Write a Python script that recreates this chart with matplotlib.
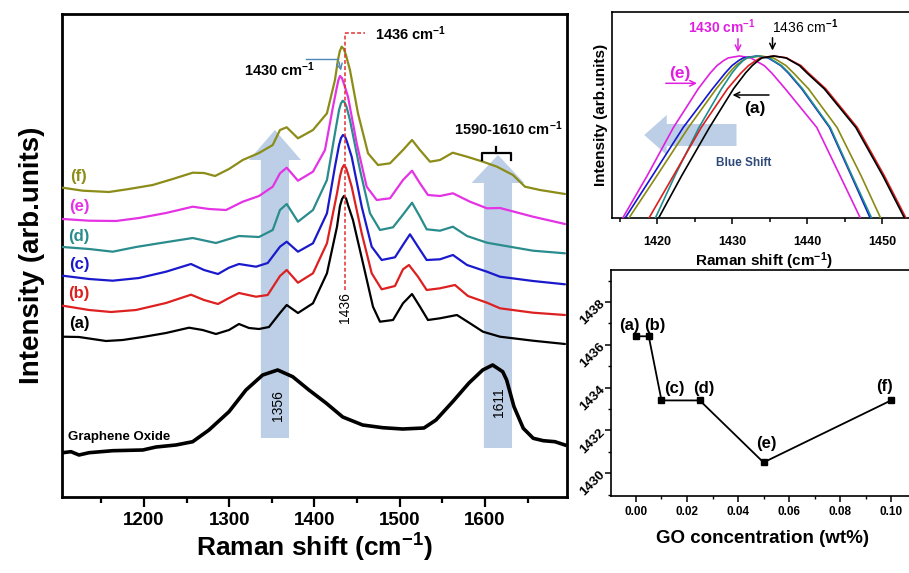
import matplotlib
matplotlib.use("Agg")
import matplotlib.pyplot as plt
from matplotlib.patches import FancyArrow
from matplotlib.ticker import MultipleLocator, FormatStrFormatter

plt.rcParams['font.family'] = ['Liberation Sans', 'DejaVu Sans']
plt.rcParams['mathtext.fontset'] = 'custom'
plt.rcParams['mathtext.rm'] = 'Liberation Sans:bold'
plt.rcParams['mathtext.bf'] = 'Liberation Sans:bold'
plt.rcParams['mathtext.it'] = 'Liberation Sans:bold'
plt.rcParams['mathtext.default'] = 'rm'

# ---------------- main spectra (Raman shift, arb. intensity) ----------------
wn_a = [1104.6, 1123.7, 1155.4, 1175.0, 1198.5, 1225.8, 1252.8, 1268.8, 1284.4, 1299.7, 1311.4, 1323.2,
        1334.9, 1346.6, 1359.5, 1367.4, 1380.6, 1398.2, 1414.6, 1426.4, 1429.9, 1432.3, 1434.6, 1437.0,
        1439.3, 1445.1, 1456.9, 1468.6, 1476.8, 1492.1, 1503.8, 1514.4, 1523.7, 1533.1, 1547.2, 1567.1,
        1582.4, 1597.6, 1617.6, 1656.3, 1693.8]
int_a = [160.3, 160, 156, 157, 160, 164, 169.3, 167, 163, 167, 173, 169,
         168, 170, 184, 192, 184, 193.7, 223.7, 270.3, 291, 298, 301, 298.5,
         292, 277, 233.7, 190.3, 175.3, 177, 193.7, 203, 190.3, 177, 178.7, 182,
         173.7, 165.3, 160.3, 156.3, 153]

wn_b = [1104.6, 1135.5, 1161.3, 1190.6, 1225.8, 1255.1, 1270.4, 1286.8, 1299.7, 1311.4, 1331.4, 1345.1,
        1359.5, 1367.4, 1380.6, 1398.2, 1414.6, 1426.4, 1430.0, 1432.3, 1434.6, 1437.0, 1439.3, 1443.6,
        1455.4, 1467.1, 1478.8, 1494.4, 1503.8, 1510.8, 1521.4, 1531.6, 1547.2, 1564.8, 1580.0, 1602.3,
        1617.6, 1656.3, 1693.8]
int_b = [191.3, 187, 185, 187, 194, 202.3, 197, 193, 199, 204, 200.3, 202,
         221, 227, 214.3, 223.7, 253.7, 303.7, 321, 328.5, 332, 329, 323, 310.3,
         263.7, 223.7, 207.7, 211, 227.7, 232, 220.3, 207, 208.7, 212, 201, 194.3,
         188.7, 184.3, 182]

wn_c = [1104.6, 1135.5, 1163.3, 1194.1, 1225.8, 1255.1, 1270.4, 1286.8, 1299.7, 1311.4, 1331.4, 1345.1,
        1359.5, 1367.4, 1380.6, 1398.2, 1414.6, 1424.0, 1428.8, 1431.1, 1433.4, 1435.8, 1438.2, 1443.6,
        1455.4, 1467.1, 1478.8, 1494.4, 1505.0, 1512.0, 1521.4, 1531.6, 1547.2, 1562.4, 1578.9, 1602.3,
        1617.6, 1656.3, 1693.8]
int_c = [221.3, 218, 216.3, 219, 225.3, 233, 227, 223, 229.3, 233, 230.3, 234,
         250.3, 255.3, 245.3, 253.7, 283.7, 330.3, 352, 359, 362, 360.5, 355, 340.3,
         290.3, 250.3, 237, 239.7, 253.7, 262.7, 250.3, 237, 237.7, 242, 232, 225.3,
         220.3, 216, 212.7]

wn_d = [1104.6, 1135.5, 1163.3, 1190.6, 1221.9, 1257.1, 1284.4, 1311.4, 1334.9, 1351.0, 1359.5, 1367.4,
        1380.6, 1398.2, 1414.6, 1424.0, 1428.8, 1431.0, 1433.1, 1435.4, 1437.6, 1441.6, 1453.4, 1465.1,
        1476.8, 1492.1, 1505.0, 1514.4, 1523.7, 1531.6, 1547.2, 1562.4, 1578.9, 1602.3, 1617.6, 1656.3,
        1693.8]
int_d = [250, 248, 245.3, 250, 254.3, 259, 254, 261, 260, 267, 287, 293,
         275.3, 287, 317, 363.7, 387, 393.5, 396.3, 394.5, 390, 377, 327, 283.7,
         267, 269.7, 283.7, 294.3, 280.3, 267.7, 266.3, 270.3, 261, 254.3, 252, 246.3,
         243.7]

wn_e = [1104.6, 1135.5, 1167.1, 1194.1, 1225.8, 1257.1, 1276.2, 1296.2, 1315.8, 1334.9, 1351.0, 1359.5,
        1367.4, 1380.6, 1398.2, 1412.3, 1421.7, 1425.8, 1427.9, 1429.9, 1432.2, 1434.6, 1439.3, 1449.5,
        1461.2, 1473.0, 1488.6, 1503.8, 1514.4, 1523.7, 1533.1, 1547.2, 1562.4, 1582.4, 1602.3, 1617.6,
        1656.3, 1693.8]
int_e = [278, 276.3, 276, 279, 284, 290.3, 288, 287, 295.3, 301, 310.3, 323.7,
         329.3, 316.3, 325.3, 347, 390.3, 408, 416.5, 421, 419, 413, 400.3, 353.7,
         310.3, 297, 298.7, 317, 326.3, 313.7, 302, 301, 303.7, 295.3, 288.7, 289,
         280.3, 273]

wn_f = [1104.6, 1128.1, 1158.9, 1182.4, 1210.2, 1233.7, 1257.1, 1270.4, 1283.3, 1299.7, 1315.8, 1334.9,
        1351.0, 1359.5, 1367.4, 1380.6, 1398.2, 1414.6, 1424.0, 1427.5, 1429.7, 1431.9, 1434.4, 1436.9,
        1441.6, 1451.0, 1462.8, 1474.5, 1488.6, 1503.8, 1514.4, 1523.7, 1535.5, 1547.2, 1562.1, 1578.9,
        1597.6, 1614.1, 1632.8, 1646.9, 1664.5, 1693.8]
int_f = [309.3, 306.3, 305, 308, 312, 318, 324.3, 324, 321, 328, 337, 344,
         352, 367, 369.7, 358.7, 367, 383.7, 417, 437, 446, 450.3, 448, 442,
         427, 383.7, 343.7, 332, 333.7, 347, 357, 347, 335.3, 337, 344.3, 340.3,
         335.3, 330.3, 322, 310.3, 307, 303]

wn_go = [1104.6, 1114.4, 1123.7, 1135.5, 1163.3, 1198.5, 1214.1, 1237.5, 1257.1, 1276.2, 1299.7, 1319.6,
         1339.2, 1356.8, 1374.4, 1393.5, 1413.5, 1433.1, 1456.5, 1480.0, 1503.4, 1528.4, 1542.5, 1562.1,
         1581.2, 1597.3, 1609.0, 1620.8, 1625.4, 1634.0, 1644.9, 1656.6, 1668.4, 1682.1, 1693.8]
int_go = [44.3, 45.3, 42, 44.3, 46.3, 47, 50, 52, 55.3, 67, 85.3, 107,
          122, 127, 120.3, 107, 94, 80, 72, 69.3, 68, 69, 77, 95.3,
          114, 127, 132, 125.3, 117, 90.3, 68.7, 58.7, 56.3, 55.3, 52]

sample_labels = ['(a)', '(b)', '(c)', '(d)', '(e)', '(f)']
sample_colors = ['#000000', '#dd2020', '#1a1acc', '#2a8c8c', '#e433e4', '#8c8c18']
label_levels = [173.7, 203.7, 232, 261, 291, 320.3]

main_xticks = [1200, 1300, 1400, 1500, 1600]

# ---------------- inset: peak region ----------------
inset_levels = [-3, 42.4, 90.6, 129.2, 145, 152.4, 157.5, 160.1, 162,
                160.1, 157.5, 152.4, 145, 129.2, 90.6, 42.4, -3]
inset_e = [1415.2, 1418.7, 1422.2, 1425.5, 1427.1, 1428.0, 1428.9, 1429.5, 1431.0,
           1432.5, 1433.1, 1434.3, 1435.3, 1437.1, 1441.3, 1444.4, 1447.3]
inset_c = [1415.5, 1419.4, 1423.5, 1427.4, 1429.1, 1430.0, 1430.9, 1431.5, 1433.3,
           1434.8, 1435.4, 1436.5, 1437.5, 1439.3, 1443.0, 1445.9, 1448.6]
inset_d = [1419.6, 1422.4, 1425.6, 1428.6, 1430.0, 1430.8, 1431.5, 1432.0, 1433.5,
           1435.0, 1435.5, 1436.6, 1437.6, 1439.4, 1443.1, 1446.0, 1448.8]
inset_f = [1416.0, 1420.0, 1424.2, 1427.9, 1429.6, 1430.5, 1431.4, 1432.0, 1433.8,
           1435.5, 1436.1, 1437.2, 1438.2, 1440.2, 1444.0, 1447.2, 1450.0]
inset_b = [1418.7, 1422.2, 1425.9, 1429.4, 1431.2, 1432.2, 1433.2, 1433.8, 1435.5,
           1437.3, 1437.9, 1439.2, 1440.2, 1442.5, 1446.7, 1450.3, 1453.4]
inset_a = [1420.0, 1423.3, 1427.0, 1430.2, 1431.8, 1432.7, 1433.5, 1434.0, 1435.6,
           1437.2, 1437.8, 1439.0, 1440.0, 1442.3, 1446.5, 1450.1, 1453.2]
inset_xticks = [1420, 1430, 1440, 1450]

# ---------------- peak position vs GO concentration ----------------
go_conc = [0.0, 0.005, 0.01, 0.025, 0.05, 0.10]
peak_pos = [1436.4, 1436.4, 1433.4, 1433.4, 1430.5, 1433.4]
pt_labels = ['(a)', '(b)', '(c)', '(d)', '(e)', '(f)']
pt_label_xy = [(-0.0024, 1436.92), (0.0075, 1436.92), (0.0150, 1433.96), (0.0264, 1433.96),
               (0.0512, 1431.39), (0.0976, 1434.04)]

W, H = 909, 573
fig = plt.figure(figsize=(W / 100, H / 100), dpi=100)


def px_axes(l, t, r, b):
    return fig.add_axes([l / W, (H - b) / H, (r - l) / W, (b - t) / H])


arrow_col = '#bccfe7'

# ===== main axes =====
ax = px_axes(62, 14, 567, 497)
ax.set_xlim(1103.8, 1696.2)
ax.set_ylim(0, 483)

ax.add_patch(FancyArrow(1353.6, 59, 0, 308, width=33, head_width=61, head_length=30,
                        length_includes_head=True, color=arrow_col, lw=0, zorder=1))
ax.add_patch(FancyArrow(1615.2, 49, 0, 293, width=33, head_width=62, head_length=28,
                        length_includes_head=True, color=arrow_col, lw=0, zorder=1))

series = [(wn_a, int_a), (wn_b, int_b), (wn_c, int_c), (wn_d, int_d), (wn_e, int_e), (wn_f, int_f)]
for (xs, ys), col in zip(series, sample_colors):
    ax.plot(xs, ys, color=col, lw=1.6, zorder=3, solid_joinstyle='round', solid_capstyle='round')
ax.plot(wn_go, int_go, color='black', lw=2.6, zorder=3, solid_joinstyle='round')

for lab, col, lev in zip(sample_labels, sample_colors, label_levels):
    ax.text(1123.7, lev, lab, color=col, fontsize=12, fontweight='bold', ha='center', va='center', zorder=5)
ax.text(1110.5, 60.3, 'Graphene Oxide', fontsize=9.5, fontweight='bold', ha='left', va='center')

# dashed red guide at 1436
ax.plot([1435.8, 1435.8], [207, 463.7], color='#e03030', lw=1.1, ls=(0, (2.5, 1.5)), zorder=4)
ax.plot([1435.8, 1459.2], [463.7, 463.7], color='#e03030', lw=1.1, ls=(0, (2.5, 1.5)), zorder=4)
ax.text(1470.9, 463.7, '1436 cm$^{-1}$', fontsize=10.5, fontweight='bold', ha='left', va='center')
ax.text(1435.8, 189, '1436', fontsize=10, rotation=90, ha='center', va='center')

# 1430 pointer
ax.plot([1390.0, 1427.9], [438, 438], color='#4f86b8', lw=1.0, zorder=4)
ax.annotate('', xy=(1431.9, 423.7), xytext=(1427.9, 438),
            arrowprops=dict(arrowstyle='->', color='#4f86b8', lw=1.0), zorder=4)
ax.text(1400.6, 427, '1430 cm$^{-1}$', fontsize=10.5, fontweight='bold', ha='right', va='center')

# bracket 1590-1610
ax.plot([1596.1, 1596.1, 1630.1, 1630.1], [337, 343.7, 343.7, 337], color='black', lw=1.6, zorder=4)
ax.plot([1613.1, 1613.1], [343.7, 350.3], color='black', lw=1.6, zorder=4)
ax.text(1627.6, 368.7, '1590-1610 cm$^{-1}$', fontsize=10.5, fontweight='bold', ha='center', va='center')

ax.text(1356.8, 91, '1356', fontsize=10, rotation=90, ha='center', va='center')
ax.text(1616.4, 95, '1611', fontsize=10, rotation=90, ha='center', va='center')

ax.set_xticks(main_xticks)
ax.xaxis.set_minor_locator(MultipleLocator(50))
ax.set_yticks([])
ax.tick_params(axis='x', which='major', direction='out', length=7, width=1.6, labelsize=13.5, pad=4)
ax.tick_params(axis='x', which='minor', direction='out', length=4, width=1.6)
for t in ax.get_xticklabels():
    t.set_fontweight('bold')
for s in ax.spines.values():
    s.set_linewidth(2.0)
ax.set_xlabel('Raman shift (cm$^{-1}$)', fontsize=19, fontweight='bold', labelpad=2)
ax.set_ylabel('Intensity (arb.units)', fontsize=20, fontweight='bold', labelpad=12)

# ===== inset: zoomed peak =====
ins = px_axes(612, 12, 915, 218)
ins.set_xlim(1414.0, 1454.4)
ins.set_ylim(0, 206)
ins.add_patch(FancyArrow(1430.6, 83, -12.3, 0, width=22, head_width=40, head_length=3.0,
                         length_includes_head=True, color=arrow_col, lw=0, zorder=1))
inset_series = [(inset_e, '#e020e0'), (inset_c, '#1515d0'), (inset_f, '#8a8a12'),
                (inset_d, '#1f8f8f'), (inset_b, '#d82020'), (inset_a, '#000000')]
for xs, col in inset_series:
    ins.plot(xs, inset_levels, color=col, lw=1.2, zorder=3, solid_joinstyle='round')
ins.text(1428.6, 191.3, '1430 cm$^{-1}$', color='#e020e0', fontsize=10, fontweight='bold', ha='center', va='center')
ins.text(1439.8, 191.3, '1436 cm$^{-1}$', color='black', fontsize=10, ha='center', va='center')
ins.annotate('', xy=(1430.8, 163), xytext=(1430.8, 182),
             arrowprops=dict(arrowstyle='->', color='#e020e0', lw=1.1))
ins.annotate('', xy=(1435.4, 164.7), xytext=(1435.4, 183),
             arrowprops=dict(arrowstyle='->', color='black', lw=1.1))
ins.text(1423.1, 144.7, '(e)', color='#e020e0', fontsize=12.5, fontweight='bold', ha='center', va='center')
ins.annotate('', xy=(1425.7, 134.7), xytext=(1420.8, 134.7),
             arrowprops=dict(arrowstyle='->', color='#e020e0', lw=1.1))
ins.text(1433.1, 109.7, '(a)', color='black', fontsize=12.5, fontweight='bold', ha='center', va='center')
ins.annotate('', xy=(1429.7, 123), xytext=(1435.3, 123),
             arrowprops=dict(arrowstyle='->', color='black', lw=1.1))
ins.text(1431.6, 54.7, 'Blue Shift', color='#2f4a7a', fontsize=8.5, fontweight='bold', ha='center', va='center')
ins.set_xticks(inset_xticks)
ins.xaxis.set_minor_locator(MultipleLocator(5))
ins.set_yticks([])
ins.tick_params(axis='x', which='major', direction='out', length=4, width=1.1, labelsize=9, pad=9)
ins.tick_params(axis='x', which='minor', direction='out', length=3, width=1.1)
for t in ins.get_xticklabels():
    t.set_fontweight('bold')
for s in ins.spines.values():
    s.set_linewidth(1.2)
ins.set_xlabel('Raman shift (cm$^{-1}$)', fontsize=11, fontweight='bold', labelpad=2)
ins.set_ylabel('Intensity (arb.units)', fontsize=11, fontweight='bold', labelpad=3)

# ===== bottom right: peak position vs concentration =====
bx = px_axes(611, 270, 915, 496)
bx.set_xlim(-0.0098, 0.1094)
bx.set_ylim(1428.93, 1439.50)
bx.plot(go_conc, peak_pos, color='black', lw=1.3, marker='s', ms=4.5, zorder=3)
for lab, (lx, ly) in zip(pt_labels, pt_label_xy):
    bx.text(lx, ly, lab, fontsize=12, fontweight='bold', ha='center', va='center')
bx.xaxis.set_major_locator(MultipleLocator(0.02))
bx.xaxis.set_minor_locator(MultipleLocator(0.01))
bx.yaxis.set_major_locator(MultipleLocator(2))
bx.yaxis.set_minor_locator(MultipleLocator(1))
bx.xaxis.set_major_formatter(FormatStrFormatter('%.2f'))
bx.tick_params(axis='x', which='major', direction='out', length=4, width=1.1, labelsize=8.5, pad=3)
bx.tick_params(axis='y', which='major', direction='out', length=4, width=1.1, labelsize=9.5, pad=2)
bx.tick_params(axis='both', which='minor', direction='out', length=2.5, width=1.0)
for t in bx.get_xticklabels():
    t.set_fontweight('bold')
for t in bx.get_yticklabels():
    t.set_fontweight('bold')
    t.set_rotation(45)
    t.set_ha('right')
    t.set_va('center')
    t.set_rotation_mode('anchor')
for s in bx.spines.values():
    s.set_linewidth(1.2)
bx.set_xlabel('GO concentration (wt%)', fontsize=13.5, fontweight='bold', labelpad=9)

fig.savefig('out.png', dpi=100)
